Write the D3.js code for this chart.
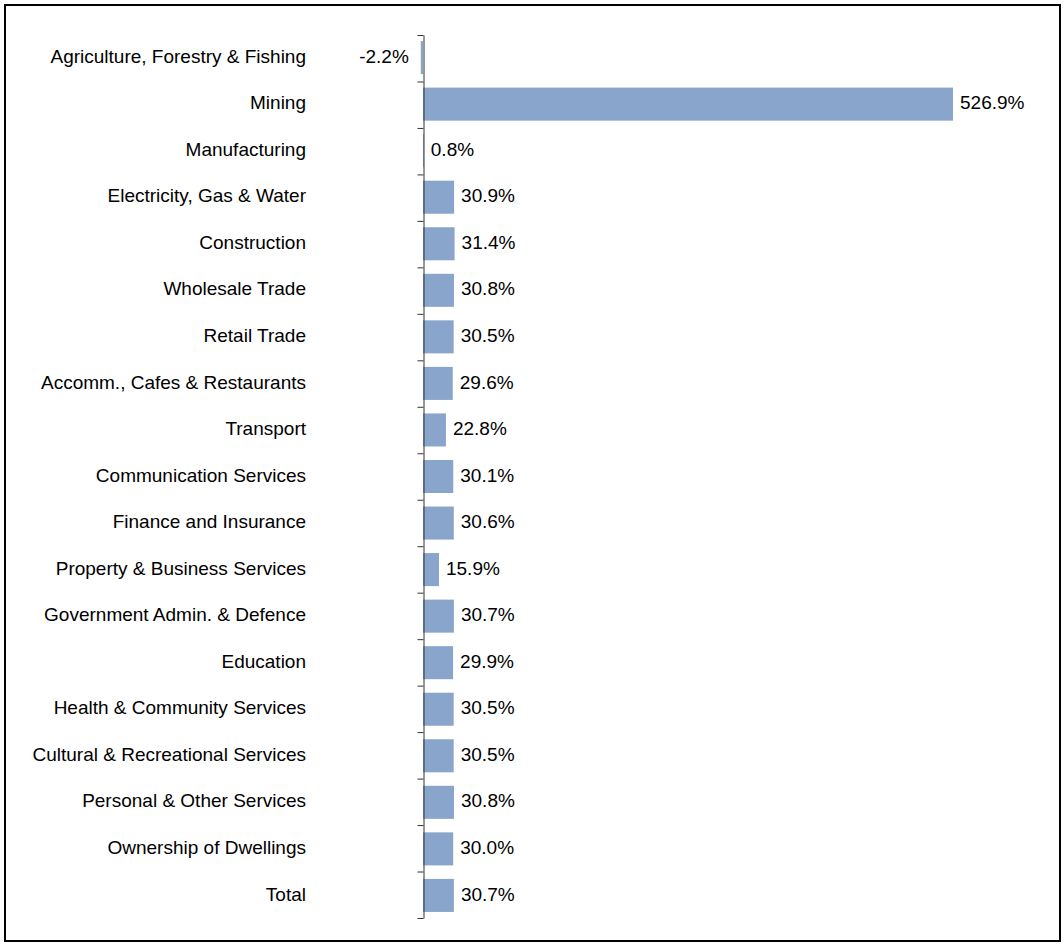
<!DOCTYPE html>
<html>
<head>
<meta charset="utf-8">
<script src="https://cdn.jsdelivr.net/npm/d3@7"></script>
<style>
  body { margin: 0; background: #fff; }
  svg text { font-family: "Liberation Sans", Arial, sans-serif; }
</style>
</head>
<body>
<div id="chart"></div>
<script>
var industries = ["Agriculture, Forestry & Fishing", "Mining", "Manufacturing", "Electricity, Gas & Water",
  "Construction", "Wholesale Trade", "Retail Trade", "Accomm., Cafes & Restaurants", "Transport",
  "Communication Services", "Finance and Insurance", "Property & Business Services",
  "Government Admin. & Defence", "Education", "Health & Community Services",
  "Cultural & Recreational Services", "Personal & Other Services", "Ownership of Dwellings", "Total"];

var growth = [-2.2, 526.9, 0.8, 30.9, 31.4, 30.8, 30.5, 29.6, 22.8, 30.1, 30.6, 15.9, 30.7, 29.9, 30.5, 30.5, 30.8, 30.0, 30.7];

var w = 1064, h = 945;
var plotTop = 35, plotBottom = 918;
var zeroX = 423, maxX = 953;

var svg = d3.select("#chart")
  .append("svg")
  .attr("width", w)
  .attr("height", h);

// outer frame
svg.append("rect")
  .attr("x", 5)
  .attr("y", 5)
  .attr("width", w - 9)
  .attr("height", h - 9)
  .attr("fill", "none")
  .attr("stroke", "#000")
  .attr("stroke-width", 2);

var x = d3.scaleLinear()
  .domain([0, d3.max(growth)])
  .range([zeroX, maxX]);

var y = d3.scaleBand()
  .domain(industries)
  .range([plotTop, plotBottom])
  .paddingInner(0.29)
  .paddingOuter(0.13);

// bars
svg.selectAll("rect.bar")
  .data(growth)
  .enter()
  .append("rect")
  .attr("class", "bar")
  .attr("x", function (d) { return Math.min(x(d), x(0)); })
  .attr("y", function (d, i) { return y(industries[i]); })
  .attr("width", function (d) { return Math.abs(x(d) - x(0)); })
  .attr("height", y.bandwidth())
  .attr("fill", "#8aa5cb");

// category labels
svg.selectAll("text.cat")
  .data(industries)
  .enter()
  .append("text")
  .attr("class", "cat")
  .attr("x", 306)
  .attr("y", function (d) { return y(d) + y.bandwidth() / 2; })
  .attr("dy", "0.27em")
  .attr("text-anchor", "end")
  .attr("font-size", "19px")
  .attr("fill", "#000")
  .text(function (d) { return d; });

// value labels
svg.selectAll("text.val")
  .data(growth)
  .enter()
  .append("text")
  .attr("class", "val")
  .attr("x", function (d) { return d < 0 ? x(d) - 12 : x(d) + 7; })
  .attr("y", function (d, i) { return y(industries[i]) + y.bandwidth() / 2; })
  .attr("dy", "0.27em")
  .attr("text-anchor", function (d) { return d < 0 ? "end" : "start"; })
  .attr("font-size", "19px")
  .attr("fill", "#000")
  .text(function (d) { return d.toFixed(1) + "%"; });

// category axis with ticks between the bars
var yTick = d3.scaleLinear()
  .domain([0, industries.length])
  .range([plotTop, plotBottom]);

var axis = svg.append("g")
  .attr("transform", "translate(" + (zeroX + 0.5) + ",0)")
  .call(d3.axisLeft(yTick)
    .tickValues(d3.range(industries.length + 1))
    .tickSize(6)
    .tickSizeOuter(0)
    .tickFormat(""));

axis.selectAll("path, line").attr("stroke", "#333");
</script>
</body>
</html>
